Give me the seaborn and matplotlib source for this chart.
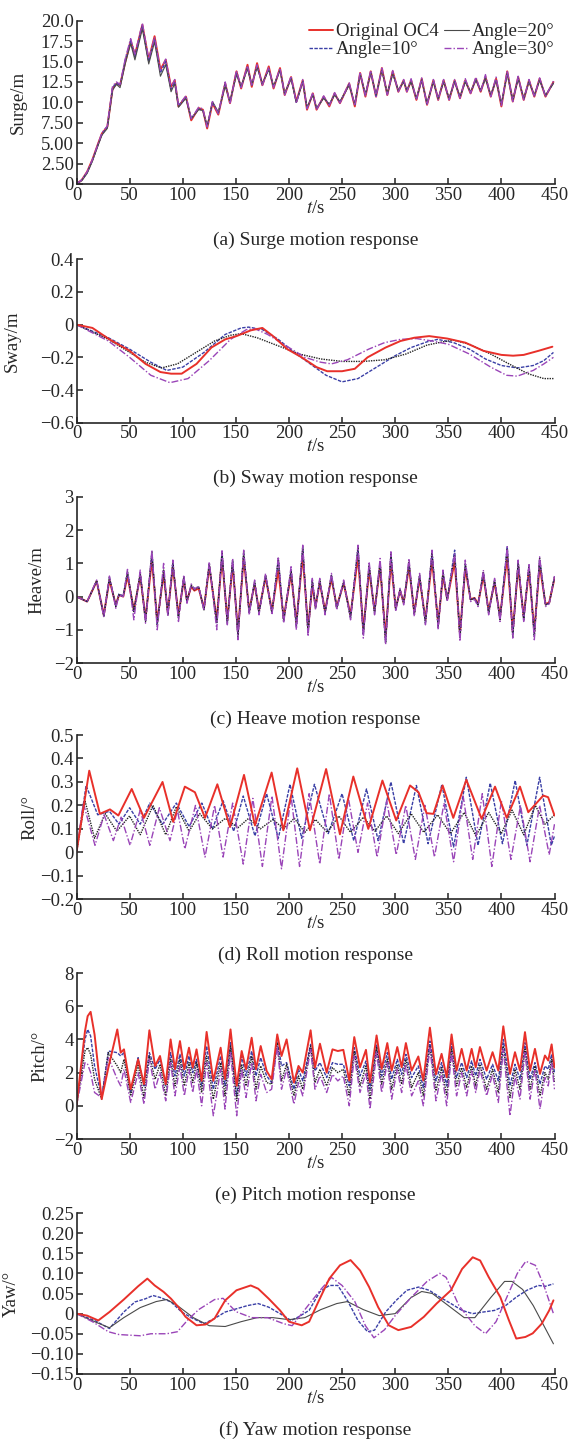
import matplotlib
matplotlib.use("Agg")
import matplotlib.pyplot as plt
import pandas as pd
import seaborn as sns

#%% Daten

cases = ["Original OC4", "Angle=10°", "Angle=20°", "Angle=30°"]
t_ticks = [0, 50, 100, 150, 200, 250, 300, 350, 400, 450]

# (a) Surge
surge_t = [0, 5, 10, 15, 20.5, 24, 29, 34, 37.6, 41, 46, 51, 55, 62, 68, 73.5, 79, 84, 89, 92.5,
           96, 103, 108, 115, 119, 123, 128, 133.5, 140, 144.5, 150.6, 155, 161, 165, 170, 175, 181, 185.5, 191.6, 196,
           202, 207, 213, 217, 222.5, 226, 232.7, 238, 243, 248, 256.7, 262, 267, 272, 277, 282, 287.5, 292.6, 297.7, 303,
           308, 311, 315, 320, 325, 330, 336, 340.5, 345.6, 350.8, 356, 361, 366, 371, 376, 380.5, 385, 390, 395, 400,
           405.5, 410.7, 415.8, 421, 426, 431, 436, 441.5, 449]
surge_oc4 = [0, 0.5, 1.5, 3.0, 5.0, 6.2, 7.0, 11.7, 12.3, 12.1, 15.0, 17.5, 15.8, 19.5, 15.2, 18.1, 14.0, 15.2, 11.9, 12.7,
             9.5, 10.7, 7.8, 9.3, 9.1, 6.8, 9.9, 8.5, 12.3, 9.9, 13.8, 11.7, 14.6, 11.9, 14.8, 12.1, 14.4, 11.7, 14.2, 10.9,
             13.1, 10.1, 12.7, 9.1, 11.1, 9.1, 10.7, 9.5, 11.1, 9.9, 12.3, 9.5, 13.6, 10.7, 13.8, 10.7, 14.2, 10.9, 13.8, 11.3,
             12.7, 11.3, 12.7, 10.3, 12.9, 9.7, 12.7, 10.3, 12.7, 10.3, 12.7, 10.5, 12.7, 11.1, 12.9, 11.3, 13.1, 10.7, 12.9, 9.5,
             13.8, 10.1, 13.1, 10.3, 12.7, 10.7, 12.9, 10.7, 12.5]
surge_a10 = [0, 0.5, 1.4, 2.9, 4.9, 6.1, 7.0, 11.8, 12.4, 12.0, 15.2, 17.6, 15.6, 19.3, 15.0, 17.8, 13.6, 15.0, 11.6, 12.5,
             9.6, 10.6, 8.0, 9.2, 9.0, 7.0, 10.0, 8.7, 12.2, 10.0, 13.6, 11.9, 14.3, 12.1, 14.5, 12.2, 14.1, 11.9, 14.0, 11.0,
             13.0, 10.0, 12.6, 9.3, 11.0, 9.2, 10.6, 9.7, 11.0, 10.0, 12.2, 9.7, 13.5, 10.9, 13.7, 10.8, 14.0, 11.0, 13.6, 11.4,
             12.6, 11.4, 12.6, 10.4, 12.8, 9.8, 12.6, 10.4, 12.6, 10.4, 12.6, 10.6, 12.6, 11.2, 12.8, 11.4, 13.0, 10.8, 12.8, 9.7,
             13.6, 10.2, 13.0, 10.4, 12.6, 10.8, 12.8, 10.8, 12.4]
surge_a20 = [0, 0.4, 1.3, 2.8, 4.8, 6.0, 6.8, 11.5, 12.2, 11.8, 14.8, 17.2, 15.2, 19.0, 14.7, 17.4, 13.2, 14.6, 11.3, 12.3,
             9.4, 10.5, 8.0, 9.1, 9.0, 7.1, 10.1, 8.8, 12.0, 10.1, 13.4, 12.0, 14.1, 12.2, 14.3, 12.3, 14.0, 12.0, 13.9, 11.1,
             12.9, 10.0, 12.5, 9.4, 10.9, 9.3, 10.5, 9.8, 10.9, 10.1, 12.1, 9.8, 13.4, 11.0, 13.6, 10.9, 13.9, 11.1, 13.5, 11.5,
             12.5, 11.5, 12.5, 10.5, 12.7, 9.9, 12.5, 10.5, 12.5, 10.5, 12.5, 10.7, 12.5, 11.3, 12.7, 11.5, 12.9, 10.9, 12.7, 9.8,
             13.5, 10.3, 12.9, 10.5, 12.5, 10.9, 12.7, 10.9, 12.3]
surge_a30 = [0, 0.5, 1.5, 3.0, 5.0, 6.3, 7.1, 12.0, 12.5, 12.2, 15.4, 17.8, 15.9, 19.7, 15.3, 18.0, 13.9, 15.3, 11.8, 12.8,
             9.6, 10.8, 8.0, 9.4, 9.2, 7.0, 10.1, 8.6, 12.5, 9.8, 13.9, 11.8, 14.5, 12.0, 14.6, 12.1, 14.3, 11.8, 14.2, 10.9,
             13.2, 9.9, 12.8, 9.2, 11.2, 9.1, 10.8, 9.6, 11.2, 9.9, 12.4, 9.6, 13.7, 10.8, 13.9, 10.7, 14.2, 10.9, 13.9, 11.3,
             12.8, 11.3, 12.9, 10.3, 13.0, 9.7, 12.8, 10.3, 12.8, 10.3, 12.8, 10.5, 12.9, 11.1, 13.1, 11.3, 13.4, 10.7, 13.1, 9.6,
             13.9, 10.1, 13.2, 10.3, 12.8, 10.7, 13.0, 10.7, 12.6]
surge_ticks = [0, 2.5, 5, 7.5, 10, 12.5, 15, 17.5, 20]
surge_labels = ["0", "2.50", "5.00", "7.50", "10.0", "12.5", "15.0", "17.5", "20.0"]

# (b) Sway
sway_oc4_t = [0, 15, 31, 50, 65, 79, 89, 99, 113, 127, 140, 150.6, 164, 175, 185, 198.5, 212, 226, 236, 250,
              262, 274, 291, 305, 318, 332, 349, 366, 383, 400, 411, 421, 435, 448]
sway_oc4 = [0, -0.02, -0.09, -0.16, -0.24, -0.29, -0.3, -0.3, -0.24, -0.14, -0.09, -0.07, -0.035, -0.02, -0.07, -0.15,
            -0.2, -0.26, -0.285, -0.285, -0.27, -0.2, -0.14, -0.1, -0.08, -0.07, -0.085, -0.11, -0.16, -0.185, -0.19,
            -0.185, -0.16, -0.135]
sway_a10_t = [0, 30, 50, 70, 85, 100, 120, 140, 155, 162, 175, 190, 205, 220, 235, 250, 265, 280, 300, 315,
              330, 340, 355, 370, 385, 400, 415, 430, 440, 449]
sway_a10 = [0, -0.08, -0.15, -0.23, -0.28, -0.26, -0.17, -0.06, -0.02, -0.015, -0.03, -0.09, -0.17, -0.24, -0.31,
            -0.35, -0.33, -0.27, -0.19, -0.14, -0.105, -0.09, -0.11, -0.15, -0.21, -0.25, -0.265, -0.25, -0.22, -0.17]
sway_a20_t = [0, 30, 50, 65, 80, 95, 110, 130, 145, 155, 170, 190, 210, 230, 250, 270, 290, 310, 330, 345,
              355, 370, 390, 410, 425, 440, 449]
sway_a20 = [0, -0.09, -0.17, -0.23, -0.265, -0.24, -0.18, -0.1, -0.065, -0.055, -0.08, -0.13, -0.18, -0.21, -0.225,
            -0.225, -0.215, -0.18, -0.125, -0.105, -0.095, -0.12, -0.18, -0.25, -0.3, -0.33, -0.33]
sway_a30_t = [0, 30, 50, 70, 88, 105, 125, 145, 160, 168, 180, 200, 215, 230, 240, 255, 275, 290, 305, 320,
              335, 350, 370, 390, 405, 415, 430, 440, 449]
sway_a30 = [0, -0.1, -0.2, -0.31, -0.355, -0.33, -0.22, -0.09, -0.03, -0.025, -0.06, -0.14, -0.2, -0.23, -0.24,
            -0.215, -0.15, -0.11, -0.09, -0.085, -0.1, -0.12, -0.18, -0.26, -0.31, -0.315, -0.28, -0.24, -0.2]
sway_ticks = [-0.6, -0.4, -0.2, 0, 0.2, 0.4]
sway_labels = ["\u22120.6", "\u22120.4", "\u22120.2", "0", "0.2", "0.4"]

# (c) Heave
heave_t = [0, 10, 19, 25.7, 31, 37, 40, 44, 48, 54, 60, 65, 71, 76, 82, 86, 90.7, 96, 101, 104,
           108, 111, 115, 120, 125, 132, 137, 142, 147, 152, 157.4, 162.6, 167.7, 171.8, 178, 184, 190, 195, 202, 207,
           213, 218, 222, 225, 229, 234, 240, 245, 251.5, 258, 265, 270, 275.5, 280.6, 285.8, 291, 296, 300.5, 304.6, 308,
           313, 318, 323, 328.5, 334.7, 340.5, 345, 349, 356, 361, 366, 371, 374.7, 378, 383, 388, 393.6, 398.7, 405.5, 410.7,
           415.8, 421, 426, 431, 436, 441.5, 445, 450]
heave_oc4 = [0, -0.15, 0.46, -0.55, 0.5, -0.25, 0.05, 0.0, 0.62, -0.4, 0.62, -0.65, 1.1, -0.75, 0.68, -0.48, 0.9, -0.55, 0.5, -0.12,
             0.3, 0.18, 0.25, -0.35, 0.9, -0.7, 1.15, -0.7, 0.95, -1.05, 1.15, -0.42, 0.38, -0.42, 0.58, -0.42, 0.8, -0.65, 0.68, -0.78,
             1.25, -0.95, 0.35, -0.3, 0.42, -0.42, 0.55, -0.3, 0.4, -0.55, 1.2, -1.0, 0.8, -0.42, 0.9, -1.2, 1.05, -0.35, 0.18, -0.18,
             0.9, -0.48, 0.55, -0.7, 1.1, -0.8, 0.62, -0.08, 1.05, -1.1, 0.85, -0.08, -0.04, -0.22, 0.62, -0.42, 0.42, -0.6, 1.2, -1.05,
             0.9, -0.6, 0.8, -1.05, 0.95, -0.22, -0.18, 0.55]
heave_a10 = [0, -0.15, 0.47, -0.58, 0.56, -0.28, 0.08, 0.02, 0.72, -0.45, 0.68, -0.72, 1.3, -0.82, 0.78, -0.52, 1.0, -0.62, 0.58, -0.15,
             0.33, 0.25, 0.28, -0.38, 0.98, -0.78, 1.3, -0.78, 1.05, -1.15, 1.3, -0.48, 0.43, -0.48, 0.63, -0.48, 1.1, -0.72, 0.78, -0.88,
             1.45, -1.08, 0.48, -0.33, 0.48, -0.48, 0.63, -0.33, 0.43, -0.62, 1.45, -1.12, 0.92, -0.48, 1.0, -1.35, 1.25, -0.38, 0.2, -0.2,
             1.0, -0.52, 0.62, -0.78, 1.3, -0.88, 0.72, -0.1, 1.4, -1.2, 0.98, -0.1, -0.05, -0.25, 0.72, -0.48, 0.48, -0.68, 1.5, -1.15,
             1.0, -0.68, 0.92, -1.15, 1.1, -0.25, -0.2, 0.58]
heave_a20 = [0, -0.15, 0.48, -0.6, 0.58, -0.3, 0.05, 0.0, 0.75, -0.45, 0.7, -0.75, 1.35, -0.85, 0.8, -0.55, 1.05, -0.65, 0.6, -0.15,
             0.35, 0.2, 0.3, -0.4, 1.0, -0.8, 1.35, -0.8, 1.1, -1.2, 1.35, -0.5, 0.45, -0.5, 0.65, -0.5, 1.15, -0.75, 0.8, -0.9,
             1.5, -1.1, 0.5, -0.35, 0.5, -0.5, 0.65, -0.35, 0.45, -0.65, 1.5, -1.15, 0.95, -0.5, 1.05, -1.4, 1.3, -0.4, 0.2, -0.2,
             1.05, -0.55, 0.65, -0.8, 1.35, -0.9, 0.75, -0.1, 1.25, -1.25, 1.0, -0.1, -0.05, -0.25, 0.75, -0.5, 0.5, -0.7, 1.45, -1.2,
             1.05, -0.7, 0.95, -1.2, 1.15, -0.25, -0.2, 0.6]
heave_a30 = [0, -0.15, 0.5, -0.62, 0.62, -0.35, 0.05, 0.0, 0.82, -0.7, 0.8, -0.8, 1.4, -1.0, 1.0, -0.6, 1.1, -0.75, 0.65, -0.2,
             0.38, 0.22, 0.32, -0.42, 1.05, -1.0, 1.38, -0.85, 1.15, -1.3, 1.4, -0.55, 0.5, -0.55, 0.7, -0.55, 1.2, -0.8, 0.9, -1.0,
             1.55, -1.2, 0.55, -0.4, 0.55, -0.55, 0.7, -0.4, 0.5, -0.7, 1.55, -1.25, 1.05, -0.55, 1.15, -1.45, 1.35, -0.45, 0.25, -0.25,
             1.15, -0.6, 0.7, -0.85, 1.4, -1.0, 0.8, -0.15, 1.3, -1.35, 1.1, -0.15, -0.08, -0.3, 0.8, -0.55, 0.55, -0.75, 1.5, -1.25,
             1.1, -0.75, 1.0, -1.3, 1.2, -0.3, -0.22, 0.62]
heave_ticks = [-2, -1, 0, 1, 2, 3]
heave_labels = ["\u22122", "\u22121", "0", "1", "2", "3"]

# (d) Roll
roll_oc4_t = [0, 12, 22, 31.5, 39.4, 52, 63.5, 81, 91, 102, 111.5, 121, 132.6, 144.5, 157.7, 168, 183.7, 194.7, 207.8, 219.8,
              235, 248, 260.6, 274.7, 288, 301, 314, 322, 329.6, 336, 344.7, 354.7, 367, 381.4, 394, 405, 417.5, 425.3, 439.4, 444, 450]
roll_oc4 = [0.0, 0.348, 0.164, 0.183, 0.157, 0.27, 0.147, 0.3, 0.13, 0.28, 0.256, 0.147, 0.29, 0.108, 0.33, 0.115, 0.34, 0.094,
            0.358, 0.094, 0.355, 0.077, 0.323, 0.1, 0.306, 0.136, 0.285, 0.256, 0.167, 0.164, 0.285, 0.147, 0.309, 0.143, 0.28,
            0.147, 0.28, 0.171, 0.242, 0.235, 0.157]
roll_a10_t = [0, 9, 20, 31, 40, 50, 60, 69, 81, 94, 106, 118, 128, 138, 148, 157, 168, 179, 190, 201,
              212, 224, 237, 250, 261, 273, 284, 296, 308, 320, 331, 344, 355, 367, 378, 389.5, 401, 413, 424, 436, 447, 450]
roll_a10 = [0, 0.285, 0.16, 0.175, 0.12, 0.19, 0.12, 0.21, 0.12, 0.21, 0.11, 0.21, 0.1, 0.22, 0.09, 0.24, 0.07, 0.25, 0.06,
            0.29, 0.06, 0.29, 0.08, 0.25, 0.05, 0.27, 0.05, 0.3, 0.037, 0.285, 0.037, 0.29, 0.023, 0.32, 0.03, 0.295, 0.037,
            0.306, 0.03, 0.32, 0.03, 0.07]
roll_a20_t = [0, 8, 17, 27, 38, 50, 60, 72, 84, 94, 106, 116, 128, 140, 152, 162, 173, 185, 195, 205,
              215, 225, 236, 247, 258, 270, 281, 292, 303, 315, 327, 340, 352, 365, 376, 388, 400, 410, 421, 432, 441, 450]
roll_a20 = [0, 0.22, 0.06, 0.165, 0.09, 0.155, 0.075, 0.2, 0.075, 0.195, 0.09, 0.165, 0.1, 0.145, 0.105, 0.145, 0.1, 0.14,
            0.1, 0.145, 0.085, 0.14, 0.085, 0.155, 0.085, 0.15, 0.09, 0.155, 0.08, 0.165, 0.085, 0.16, 0.08, 0.17, 0.07, 0.17,
            0.08, 0.18, 0.075, 0.2, 0.12, 0.16]
roll_a30_t = [0, 6.4, 17.4, 26, 34.7, 42, 50.4, 60, 69, 78, 88, 95, 102, 112, 121, 130, 138, 147, 157, 166,
              175, 184, 193, 202, 210, 219, 229, 238, 247, 256, 265, 274, 283, 292, 301, 310, 319, 328, 337, 346,
              355, 364, 373, 382, 391, 400, 409, 418, 427, 436, 445, 450]
roll_a30 = [0, 0.21, 0.03, 0.16, 0.05, 0.15, 0.03, 0.18, 0.03, 0.19, 0.05, 0.18, 0.015, 0.2, -0.02, 0.2, -0.02, 0.21, -0.05,
            0.23, -0.06, 0.24, -0.07, 0.24, -0.06, 0.25, -0.05, 0.25, -0.03, 0.23, 0.0, 0.21, -0.02, 0.22, -0.01, 0.2, -0.03,
            0.2, -0.02, 0.21, -0.04, 0.24, -0.03, 0.25, -0.06, 0.22, -0.03, 0.2, -0.04, 0.2, -0.01, 0.12]
roll_ticks = [-0.2, -0.1, 0, 0.1, 0.2, 0.3, 0.4, 0.5]
roll_labels = ["\u22120.2", "\u22120.1", "0", "0.1", "0.2", "0.3", "0.4", "0.5"]

# (e) Pitch
pitch_t = [0, 8, 10.5, 13.3, 17, 23.7, 30, 38.4, 41.6, 44.7, 51, 58, 63.5, 68.6, 74, 78.6, 84, 88.6, 92.7, 97.4,
           101.5, 105.9, 109.4, 113, 117.8, 122.5, 128.8, 135.7, 139.8, 145, 150.8, 155.5, 159.6, 164.9, 169, 173.4, 179, 183.7, 189, 193,
           197.8, 204.7, 209, 213, 220.4, 224.5, 229.2, 235.5, 241, 246, 251.2, 256.8, 261.5, 266.9, 272.5, 276.3, 282.5, 287.3, 292.6, 296.7,
           302, 306.1, 310.1, 315.5, 321.8, 326.5, 332.7, 338.4, 343.7, 348.5, 353.1, 357.8, 362.6, 367.3, 372, 375.8, 379.8, 386.1, 391.7, 397.1,
           401.8, 408.1, 412.8, 417.5, 422.2, 427, 431.6, 436.3, 441, 444.1, 447.3, 450]
pitch_oc4 = [0, 4.5, 5.4, 5.66, 4.3, 0.4, 2.3, 4.6, 3.2, 3.4, 1.0, 2.8, 1.3, 4.55, 2.4, 3.0, 1.3, 4.0, 2.2, 3.9,
             2.2, 3.5, 2.3, 3.4, 1.5, 4.45, 1.5, 3.5, 1.6, 4.6, 1.2, 3.3, 2.2, 4.1, 2.2, 3.6, 2.1, 1.6, 4.3, 3.0,
             4.0, 1.4, 2.4, 2.0, 4.55, 2.3, 3.74, 2.0, 3.4, 3.3, 3.37, 1.52, 4.14, 2.32, 3.37, 1.41, 4.24, 2.22, 3.78, 2.12,
             3.54, 2.32, 3.78, 2.12, 2.97, 1.52, 4.71, 1.9, 3.13, 1.72, 4.3, 2.12, 3.43, 2.12, 3.43, 2.32, 3.54, 2.12, 3.23, 2.12,
             4.79, 1.92, 3.23, 2.12, 4.44, 2.12, 3.43, 1.92, 3.03, 2.73, 3.7, 2.3]
pitch_a10 = [0, 4.0, 4.6, 4.2, 2.4, 0.5, 3.3, 3.2, 3.0, 3.2, 0.8, 2.9, 1.2, 3.2, 2.2, 2.8, 1.2, 3.2, 1.8, 3.1,
             1.8, 3.0, 2.0, 2.8, 1.2, 3.6, 1.0, 3.0, 1.2, 3.8, 0.6, 3.0, 1.8, 3.3, 1.8, 2.9, 1.8, 1.4, 4.0, 2.4,
             2.6, 1.0, 2.2, 1.5, 3.7, 2.1, 2.6, 1.7, 2.6, 2.5, 2.5, 1.2, 3.5, 1.8, 2.7, 1.0, 3.7, 1.8, 3.2, 1.6,
             2.8, 1.9, 3.1, 1.7, 2.4, 1.1, 3.9, 1.5, 2.6, 1.2, 3.8, 1.7, 2.6, 1.7, 2.7, 1.8, 2.8, 1.6, 2.5, 1.5,
             4.0, 1.2, 2.5, 1.6, 3.8, 1.6, 2.6, 1.3, 2.4, 2.2, 3.1, 2.0]
pitch_a20 = [0, 3.3, 3.5, 3.1, 1.6, 0.4, 3.2, 2.4, 2.0, 2.8, 0.6, 2.5, 0.5, 3.0, 1.6, 2.5, 0.6, 2.8, 1.2, 2.8,
             1.2, 2.6, 1.4, 2.6, 0.8, 3.0, 0.4, 2.6, 0.6, 3.6, 0.3, 2.5, 1.2, 3.0, 1.0, 2.4, 1.4, 1.3, 3.8, 1.5,
             2.5, 0.6, 1.8, 1.0, 3.6, 1.4, 2.2, 1.2, 2.3, 2.0, 2.2, 0.6, 3.3, 1.2, 2.4, 0.4, 3.5, 1.3, 2.8, 1.0,
             2.5, 1.3, 2.8, 1.1, 2.0, 0.6, 3.6, 0.9, 2.3, 0.6, 3.4, 1.2, 2.3, 1.1, 2.4, 1.2, 2.5, 1.0, 2.2, 0.8,
             3.6, 0.5, 2.2, 1.0, 3.4, 1.0, 2.4, 0.6, 2.0, 1.6, 2.8, 1.4]
pitch_a30 = [0, 2.6, 2.5, 2.0, 0.8, 0.5, 2.9, 1.6, 1.2, 2.2, 0.2, 2.0, 0.1, 2.8, 1.0, 2.0, 0.3, 2.6, 0.6, 2.4,
             0.6, 2.2, 0.8, 2.2, 0.0, 2.6, -0.6, 2.2, -0.2, 3.2, -0.6, 2.2, 0.5, 2.6, 0.3, 1.9, 0.8, 1.0, 3.6, 1.0,
             2.2, 0.1, 1.4, 0.6, 3.4, 1.0, 1.8, 0.8, 1.9, 1.5, 1.8, 0.0, 3.0, 0.8, 2.0, -0.2, 3.2, 0.8, 2.6, 0.4,
             2.2, 0.8, 2.5, 0.6, 1.5, 0.0, 3.5, 0.3, 2.0, 0.0, 3.2, 0.6, 2.0, 0.6, 2.1, 0.8, 2.2, 0.6, 1.9, 0.2,
             3.4, -0.6, 1.8, 0.4, 3.2, 0.4, 2.2, -0.2, 1.7, 1.2, 2.6, 1.0]
pitch_ticks = [-2, 0, 2, 4, 6, 8]
pitch_labels = ["\u22122", "0", "2", "4", "6", "8"]

# (f) Yaw
yaw_oc4_t = [0, 10, 20.5, 31, 44.5, 58, 66.7, 73.6, 82, 89, 96, 102.7, 113, 121.5, 130, 140, 150.6, 164, 171, 181,
             191.6, 200, 212, 219, 227.6, 238, 248, 258, 267, 275.5, 284, 294, 303, 315, 327, 339, 352.5, 363, 373, 380,
             388, 399, 407, 414, 422.6, 429.5, 438, 445, 449]
yaw_oc4 = [0, -0.005, -0.017, 0.004, 0.035, 0.068, 0.087, 0.07, 0.054, 0.037, 0.016, -0.008, -0.029, -0.027, -0.012,
           0.033, 0.058, 0.07, 0.062, 0.037, 0.008, -0.02, -0.029, -0.02, 0.029, 0.087, 0.12, 0.133, 0.107, 0.066, 0.016,
           -0.029, -0.041, -0.033, -0.008, 0.025, 0.058, 0.111, 0.14, 0.132, 0.091, 0.041, -0.016, -0.062, -0.058, -0.049,
           -0.025, 0.008, 0.033]
yaw_a10_t = [0, 17, 31, 44.5, 55, 65, 72, 79, 89, 99, 109.5, 120, 130, 140, 150.6, 161, 171, 181, 191.6, 202,
             209, 219, 229, 238, 246, 255, 265, 274, 280.6, 291, 301, 311, 322, 332, 342, 352.5, 363, 373, 383, 393.6,
             404, 414, 424, 434.6, 441.5, 449]
yaw_a10 = [0, -0.017, -0.037, 0.004, 0.029, 0.037, 0.045, 0.04, 0.029, 0.004, -0.012, -0.025, -0.012, 0.004, 0.012,
           0.02, 0.025, 0.016, 0, -0.017, -0.008, 0.008, 0.054, 0.07, 0.07, 0.033, -0.017, -0.045, -0.041, 0.004, 0.033,
           0.058, 0.066, 0.058, 0.041, 0.025, 0.008, 0, 0.004, 0.008, 0.02, 0.041, 0.058, 0.07, 0.068, 0.074]
yaw_a20_t = [0, 17, 31, 44.5, 60, 75, 85, 95, 110, 125, 140, 155, 170, 185, 200, 215, 230, 245, 255, 270,
             285, 300, 315, 325, 335, 350, 365, 375, 390, 403, 410, 420, 430, 440, 449]
yaw_a20 = [0, -0.02, -0.035, -0.01, 0.015, 0.03, 0.035, 0.02, -0.01, -0.03, -0.032, -0.02, -0.01, -0.01, -0.015,
           -0.01, 0.01, 0.025, 0.03, 0.01, -0.005, 0.0, 0.04, 0.055, 0.05, 0.02, -0.01, -0.01, 0.04, 0.08, 0.08, 0.06,
           0.02, -0.03, -0.075]
yaw_a30_t = [0, 15, 30, 40, 60, 70, 85, 95, 105, 115, 130, 138, 150, 165, 180, 195, 203, 215, 230, 240,
             250, 262, 272, 280, 290, 300, 315, 330, 342, 348, 360, 375, 385, 395, 405, 415, 423, 432, 440, 449]
yaw_a30 = [0, -0.02, -0.045, -0.052, -0.055, -0.05, -0.05, -0.045, -0.015, 0.01, 0.035, 0.038, 0.005, -0.01, -0.01,
           -0.025, -0.03, 0.01, 0.06, 0.09, 0.07, 0.03, -0.03, -0.06, -0.04, -0.005, 0.04, 0.08, 0.1, 0.09, 0.02, -0.03,
           -0.05, -0.02, 0.04, 0.1, 0.13, 0.12, 0.07, 0.0]
yaw_ticks = [-0.15, -0.1, -0.05, 0, 0.05, 0.1, 0.15, 0.2, 0.25]
yaw_labels = ["\u22120.15", "\u22120.10", "\u22120.05", "0", "0.05", "0.10", "0.15", "0.20", "0.25"]

#%% Stil

sns.set_theme(style="ticks")
plt.rcParams['font.family'] = ['Liberation Serif', 'DejaVu Serif']
plt.rcParams['mathtext.fontset'] = 'stix'
plt.rcParams['axes.linewidth'] = 1.2

palette = {"Original OC4": "#e8302a", "Angle=10°": "#3a3fa6", "Angle=20°": "#222222", "Angle=30°": "#9a45b8"}
widths = {"Original OC4": 1.4, "Angle=10°": 1.0, "Angle=20°": 1.0, "Angle=30°": 1.0}
dashes = {"Original OC4": "", "Angle=10°": (2.5, 1.0), "Angle=20°": (1.0, 0.8), "Angle=30°": (5, 1.5, 1, 1.5)}
# in (a) und (f) ist Angle=20° eine dünne durchgezogene graue Linie
dashes_solid20 = dict(dashes, **{"Angle=20°": ""})
palette_gray20 = dict(palette, **{"Angle=20°": "#4a4a4a"})
widths_thin20 = dict(widths, **{"Angle=20°": 0.8})

tsize = 13.5
csize = 14

def long_df(pairs):
    frames = []
    for case, (t, v) in zip(cases, pairs):
        frames.append(pd.DataFrame({"t": t, "value": v, "case": case}))
    return pd.concat(frames, ignore_index=True)

red_last = cases[1:] + cases[:1]

panels = [
    dict(df=long_df([(surge_t, surge_oc4), (surge_t, surge_a10), (surge_t, surge_a20), (surge_t, surge_a30)]),
         ylabel="Surge/m", caption="(a) Surge motion response", yt=surge_ticks, yl=surge_labels,
         box=(20.7, 184), lab_x=-0.104, gray=True, order=cases),
    dict(df=long_df([(sway_oc4_t, sway_oc4), (sway_a10_t, sway_a10), (sway_a20_t, sway_a20), (sway_a30_t, sway_a30)]),
         ylabel="Sway/m", caption="(b) Sway motion response", yt=sway_ticks, yl=sway_labels,
         box=(259.3, 422.7), lab_x=-0.116, gray=False, order=red_last),
    dict(df=long_df([(heave_t, heave_oc4), (heave_t, heave_a10), (heave_t, heave_a20), (heave_t, heave_a30)]),
         ylabel="Heave/m", caption="(c) Heave motion response", yt=heave_ticks, yl=heave_labels,
         box=(497, 663), lab_x=-0.064, gray=False, order=cases),
    dict(df=long_df([(roll_oc4_t, roll_oc4), (roll_a10_t, roll_a10), (roll_a20_t, roll_a20), (roll_a30_t, roll_a30)]),
         ylabel="Roll/°", caption="(d) Roll motion response", yt=roll_ticks, yl=roll_labels,
         box=(735, 899.3), lab_x=-0.079, gray=False, order=red_last),
    dict(df=long_df([(pitch_t, pitch_oc4), (pitch_t, pitch_a10), (pitch_t, pitch_a20), (pitch_t, pitch_a30)]),
         ylabel="Pitch/°", caption="(e) Pitch motion response", yt=pitch_ticks, yl=pitch_labels,
         box=(973, 1139), lab_x=-0.058, gray=False, order=red_last),
    dict(df=long_df([(yaw_oc4_t, yaw_oc4), (yaw_a10_t, yaw_a10), (yaw_a20_t, yaw_a20), (yaw_a30_t, yaw_a30)]),
         ylabel="Yaw/°", caption="(f) Yaw motion response", yt=yaw_ticks, yl=yaw_labels,
         box=(1213, 1374), lab_x=-0.118, gray=True, order=red_last),
]

#%% Zeichnen

W, H = 571, 1450
fig = plt.figure(figsize=(W / 100, H / 100), dpi=100)
x0, x1 = 76.5, 554.5

for i, p in enumerate(panels):
    top, bot = p["box"]
    ax = fig.add_axes([x0 / W, 1 - bot / H, (x1 - x0) / W, (bot - top) / H])
    sns.lineplot(data=p["df"], x="t", y="value", hue="case", style="case", size="case",
                 hue_order=p["order"], style_order=p["order"], size_order=p["order"],
                 palette=palette_gray20 if p["gray"] else palette,
                 dashes=dashes_solid20 if p["gray"] else dashes,
                 sizes=widths_thin20 if p["gray"] else widths,
                 estimator=None, sort=False, legend=(i == 0), ax=ax)
    ax.set_xlim(0, 450)
    ax.set_ylim(p["yt"][0], p["yt"][-1])
    ax.set_xticks(t_ticks)
    ax.set_xticklabels([str(v) for v in t_ticks])
    ax.set_yticks(p["yt"])
    ax.set_yticklabels(p["yl"])
    ax.tick_params(direction="in", length=4, width=1.1, labelsize=tsize, pad=2, color="#222222")
    sns.despine(ax=ax)
    ax.set_xlabel("$t$/s", fontsize=tsize, labelpad=-3)
    ax.set_ylabel(p["ylabel"], fontsize=tsize)
    ax.yaxis.set_label_coords(p["lab_x"], 0.5)
    fig.text((x0 + x1) / 2 / W, 1 - (bot + 56) / H, p["caption"], ha="center", va="center", fontsize=csize)
    if i == 0:
        handles, labels = ax.get_legend_handles_labels()
        ax.legend(handles, labels, ncol=2, loc="upper right", bbox_to_anchor=(1.015, 1.03), frameon=False,
                  fontsize=13.5, handlelength=1.3, handletextpad=0.15, columnspacing=0.3, labelspacing=0.05,
                  borderaxespad=0)

fig.savefig("out.png", dpi=100)
